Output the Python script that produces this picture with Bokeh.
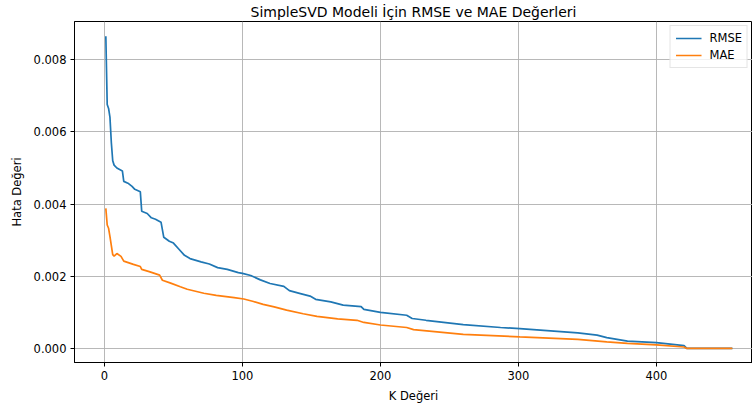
from bokeh.plotting import figure
from bokeh.models import ColumnDataSource, Range1d, FixedTicker, NumeralTickFormatter, Legend, LegendItem
from bokeh.embed import file_html
from bokeh.resources import INLINE

title_text = "SimpleSVD Modeli İçin RMSE ve MAE Değerleri"
x_label = "K Değeri"
y_label = "Hata Değeri"
series_names = ["RMSE", "MAE"]

rmse_k = [1, 2, 3, 4, 5, 6, 7, 9, 12, 13, 14, 17, 20, 22, 26, 27, 31, 34, 37, 41, 43, 47, 50, 54, 58,
          62, 70, 76, 82, 89, 97, 100, 106, 113, 120, 130, 134, 142, 149, 153, 164, 173, 186, 188, 200,
          219, 223, 233, 260, 287, 301, 343, 357, 364, 379, 400, 420, 422, 455]
rmse_v = [0.00865, 0.00676, 0.00665, 0.00640, 0.00570, 0.00520, 0.00508, 0.00500, 0.00494, 0.00492,
          0.00463, 0.00458, 0.00449, 0.00441, 0.00434, 0.00380, 0.00374, 0.00362, 0.00358, 0.00350,
          0.00308, 0.00297, 0.00292, 0.00275, 0.00258, 0.00249, 0.00240, 0.00234, 0.00224, 0.00219,
          0.00210, 0.00208, 0.00202, 0.00190, 0.00180, 0.00172, 0.00160, 0.00152, 0.00145, 0.00136,
          0.00129, 0.00120, 0.00116, 0.00108, 0.00100, 0.00092, 0.00083, 0.00078, 0.00066, 0.00058,
          0.00055, 0.00043, 0.00037, 0.00030, 0.00020, 0.00016, 0.00008, 0.00000, 0.00000]

mae_k = [1, 2, 3, 4, 6, 7, 9, 12, 14, 21, 26, 27, 33, 40, 42, 48, 55, 60, 72, 81, 94, 101, 108, 115,
         123, 132, 144, 154, 169, 183, 188, 200, 219, 224, 260, 301, 343, 364, 379, 400, 420, 422, 455]
mae_v = [0.00388, 0.00342, 0.00333, 0.00310, 0.00260, 0.00256, 0.00263, 0.00255, 0.00242, 0.00233,
         0.00227, 0.00219, 0.00212, 0.00203, 0.00189, 0.00181, 0.00171, 0.00164, 0.00153, 0.00147,
         0.00141, 0.00137, 0.00130, 0.00122, 0.00115, 0.00106, 0.00096, 0.00089, 0.00082, 0.00078,
         0.00072, 0.00065, 0.00058, 0.00052, 0.00039, 0.00032, 0.00025, 0.00018, 0.00014, 0.00010,
         0.00004, 0.00000, 0.00000]

x_ticks = [0, 100, 200, 300, 400]
y_ticks = [0.000, 0.002, 0.004, 0.006, 0.008]

FONT = "DejaVu Sans"

p = figure(width=752, height=408, output_backend="svg", toolbar_location=None,
           x_range=Range1d(-21.7, 469.6), y_range=Range1d(-0.00039, 0.00906),
           min_border_left=74, min_border_right=0, min_border_top=0, min_border_bottom=46)

p.title.text = title_text
p.title.text_font = FONT
p.title.text_font_size = "14px"
p.title.text_font_style = "normal"
p.title.align = "center"
p.title.text_color = "black"
p.title.standoff = 3
p.title.offset = 0

p.outline_line_color = "black"
p.outline_line_width = 1
p.background_fill_color = "white"
p.border_fill_color = "white"

for ax in (p.xaxis[0], p.yaxis[0]):
    ax.axis_label_text_font = FONT
    ax.axis_label_text_font_size = "11.5px"
    ax.axis_label_text_font_style = "normal"
    ax.axis_label_text_color = "black"
    ax.major_label_text_font = FONT
    ax.major_label_text_font_size = "11.5px"
    ax.major_label_text_color = "black"
    ax.major_tick_in = 0
    ax.major_tick_out = 4
    ax.minor_tick_in = 0
    ax.minor_tick_out = 0
    ax.major_label_standoff = 4
    ax.axis_line_color = "black"

p.xaxis.axis_label = x_label
p.yaxis.axis_label = y_label
p.xaxis.ticker = FixedTicker(ticks=x_ticks)
p.yaxis.ticker = FixedTicker(ticks=y_ticks)
p.yaxis.formatter = NumeralTickFormatter(format="0.000")
p.xaxis.axis_label_standoff = 6
p.yaxis.axis_label_standoff = 7

p.grid.grid_line_color = "#b0b0b0"
p.grid.grid_line_width = 0.9
p.xgrid.ticker = FixedTicker(ticks=x_ticks)
p.ygrid.ticker = FixedTicker(ticks=y_ticks)

src_r = ColumnDataSource(dict(k=rmse_k, v=rmse_v))
src_m = ColumnDataSource(dict(k=mae_k, v=mae_v))
r1 = p.line("k", "v", source=src_r, line_color="#1f77b4", line_width=1.7)
r2 = p.line("k", "v", source=src_m, line_color="#ff7f0e", line_width=1.7)

legend = Legend(items=[LegendItem(label=series_names[0], renderers=[r1]),
                       LegendItem(label=series_names[1], renderers=[r2])],
                location="top_right")
legend.label_text_font = FONT
legend.label_text_font_size = "11.5px"
legend.label_text_color = "black"
legend.border_line_color = "#cccccc"
legend.border_line_width = 1
legend.background_fill_alpha = 0.8
legend.glyph_width = 26
legend.glyph_height = 14
legend.label_height = 14
legend.spacing = 3
legend.padding = 5
legend.margin = 4
legend.label_standoff = 8
p.add_layout(legend)

open("out.html", "w").write(file_html(p, INLINE))
